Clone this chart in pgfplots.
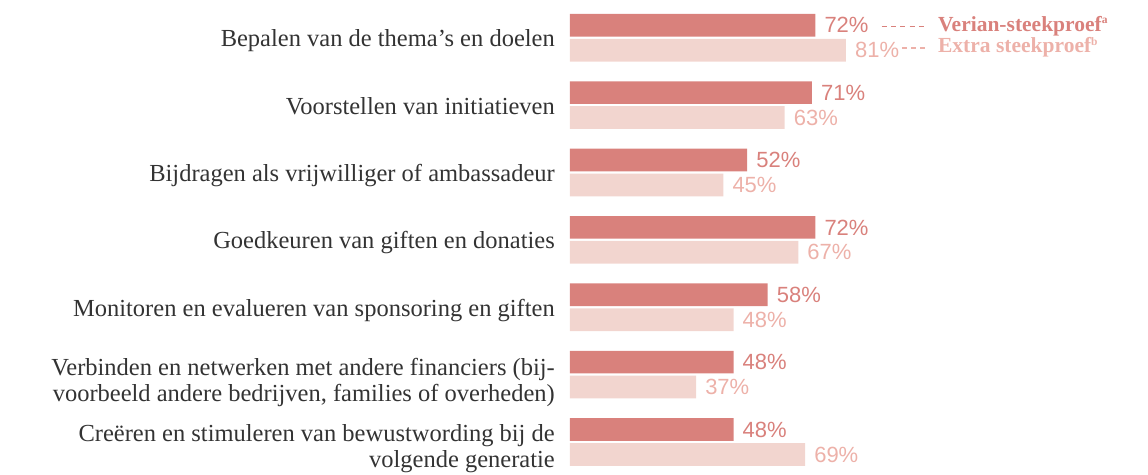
\documentclass[border=0pt]{standalone}
\usepackage{fontspec}
\setmainfont{Liberation Serif}
\newfontfamily\valfont{Liberation Sans}
\usepackage{pgfplots}
\pgfplotsset{compat=1.18}
\definecolor{darkbar}{HTML}{D9817C}
\definecolor{lightbar}{HTML}{F2D5CF}
\definecolor{lighttxt}{HTML}{EDB1A9}
\definecolor{labelgray}{HTML}{333333}
\newcommand{\sups}[1]{\raisebox{7.5pt}{\fontsize{11.5}{11.5}\selectfont #1}}
\begin{document}
\begin{tikzpicture}
\path[use as bounding box] (-570pt,0pt) rectangle (578pt,474pt);
\begin{axis}[
  at={(0pt,0pt)}, anchor=south west,
  scale only axis, width=578pt, height=474pt,
  xmin=0, xmax=169.65,
  y dir=reverse, ymin=-0.5595, ymax=6.4753,
  axis line style={draw=none},
  major tick length=0pt,
  xtick=\empty,
  ytick={0,1,2,3,4,5,6},
  yticklabels={
    {Bepalen van de thema’s en doelen},
    {Voorstellen van initiatieven},
    {Bijdragen als vrijwilliger of ambassadeur},
    {Goedkeuren van giften en donaties},
    {Monitoren en evalueren van sponsoring en giften},
    {\raisebox{8pt}{\begin{tabular}[t]{@{}r@{}}Verbinden en netwerken met andere financiers (bij-\\voorbeeld andere bedrijven, families of overheden)\end{tabular}}},
    {\raisebox{9pt}{\begin{tabular}[t]{@{}r@{}}Creëren en stimuleren van bewustwording bij de\\volgende generatie\end{tabular}}}
  },
  yticklabel style={anchor=base east, inner sep=0pt, xshift=-15pt, yshift=-9pt,
    font=\fontsize{24.5}{26}\selectfont, text=labelgray},
  xbar, bar width=22.7pt, bar shift=0pt,
  clip=false,
  /pgf/number format/assume math mode=true,
  nodes near coords={\pgfmathprintnumber{\pgfplotspointmeta}\%},
  nodes near coords style={anchor=west, inner sep=0pt, xshift=9pt,
    font=\fontsize{22}{22}\selectfont\valfont},
]
\addplot[fill=darkbar, draw=none, nodes near coords style={text=darkbar}] coordinates {
  (72,-0.1848) (71,0.8152) (52,1.8152) (72,2.8152) (58,3.8152) (48,4.8152) (48,5.8152)
};
\addplot[fill=lightbar, draw=none, nodes near coords style={text=lighttxt}] coordinates {
  (81,0.1855) (63,1.1855) (45,2.1855) (67,3.1855) (48,4.1855) (37,5.1855) (69,6.1855)
};
\draw[darkbar, line width=1.1pt, dash pattern=on 5pt off 4.3pt] (axis cs:91.5,-0.1662) -- (axis cs:105.1,-0.1662);
\draw[lighttxt, line width=1.1pt, dash pattern=on 5pt off 4.3pt] (axis cs:97.4,0.1529) -- (axis cs:105.1,0.1529);
\node[anchor=base west, inner sep=0pt, text=darkbar, font=\fontsize{21.5}{21.5}\selectfont\bfseries] at (axis cs:108.0,-0.0920) {Verian-steekproef\sups{a}};
\node[anchor=base west, inner sep=0pt, text=lighttxt, font=\fontsize{21.5}{21.5}\selectfont\bfseries] at (axis cs:108.0,0.2270) {Extra steekproef\sups{b}};
\end{axis}
\end{tikzpicture}
\end{document}
